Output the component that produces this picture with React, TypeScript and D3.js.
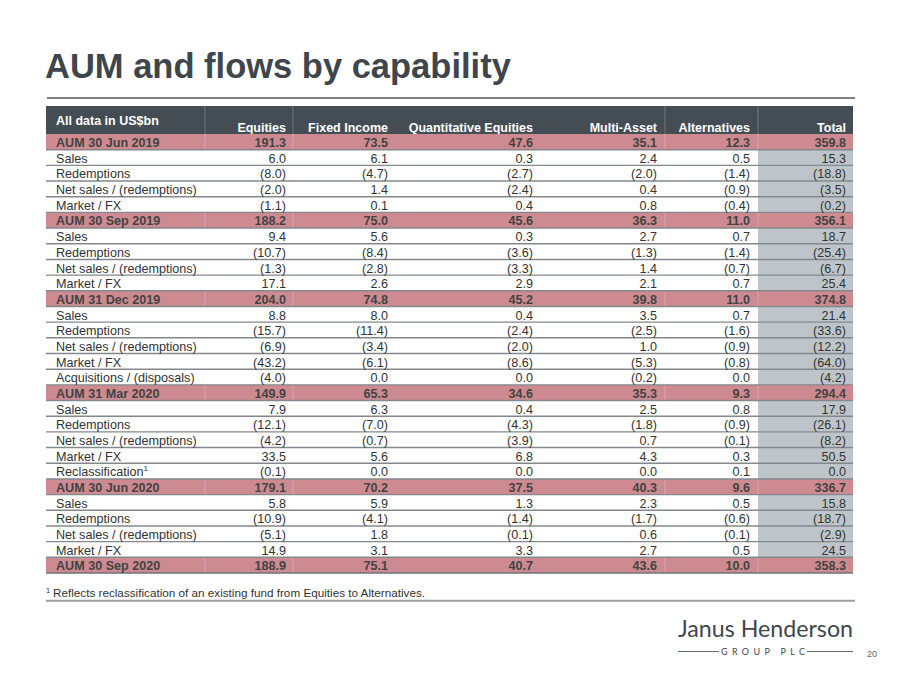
import React from "react";
import * as d3 from "d3";

const rowLabels = [
  "AUM 30 Jun 2019", "Sales", "Redemptions", "Net sales / (redemptions)", "Market / FX",
  "AUM 30 Sep 2019", "Sales", "Redemptions", "Net sales / (redemptions)", "Market / FX",
  "AUM 31 Dec 2019", "Sales", "Redemptions", "Net sales / (redemptions)", "Market / FX", "Acquisitions / (disposals)",
  "AUM 31 Mar 2020", "Sales", "Redemptions", "Net sales / (redemptions)", "Market / FX", "Reclassification",
  "AUM 30 Jun 2020", "Sales", "Redemptions", "Net sales / (redemptions)", "Market / FX",
  "AUM 30 Sep 2020",
];

const columnHeaders = ["Equities", "Fixed Income", "Quantitative Equities", "Multi-Asset", "Alternatives", "Total"];

const equities = [191.3, 6.0, -8.0, -2.0, -1.1, 188.2, 9.4, -10.7, -1.3, 17.1, 204.0, 8.8, -15.7, -6.9, -43.2, -4.0, 149.9, 7.9, -12.1, -4.2, 33.5, -0.1, 179.1, 5.8, -10.9, -5.1, 14.9, 188.9];
const fixedIncome = [73.5, 6.1, -4.7, 1.4, 0.1, 75.0, 5.6, -8.4, -2.8, 2.6, 74.8, 8.0, -11.4, -3.4, -6.1, 0.0, 65.3, 6.3, -7.0, -0.7, 5.6, 0.0, 70.2, 5.9, -4.1, 1.8, 3.1, 75.1];
const quantEquities = [47.6, 0.3, -2.7, -2.4, 0.4, 45.6, 0.3, -3.6, -3.3, 2.9, 45.2, 0.4, -2.4, -2.0, -8.6, 0.0, 34.6, 0.4, -4.3, -3.9, 6.8, 0.0, 37.5, 1.3, -1.4, -0.1, 3.3, 40.7];
const multiAsset = [35.1, 2.4, -2.0, 0.4, 0.8, 36.3, 2.7, -1.3, 1.4, 2.1, 39.8, 3.5, -2.5, 1.0, -5.3, -0.2, 35.3, 2.5, -1.8, 0.7, 4.3, 0.0, 40.3, 2.3, -1.7, 0.6, 2.7, 43.6];
const alternatives = [12.3, 0.5, -1.4, -0.9, -0.4, 11.0, 0.7, -1.4, -0.7, 0.7, 11.0, 0.7, -1.6, -0.9, -0.8, 0.0, 9.3, 0.8, -0.9, -0.1, 0.3, 0.1, 9.6, 0.5, -0.6, -0.1, 0.5, 10.0];
const total = [359.8, 15.3, -18.8, -3.5, -0.2, 356.1, 18.7, -25.4, -6.7, 25.4, 374.8, 21.4, -33.6, -12.2, -64.0, -4.2, 294.4, 17.9, -26.1, -8.2, 50.5, 0.0, 336.7, 15.8, -18.7, -2.9, 24.5, 358.3];

const seriesList = [equities, fixedIncome, quantEquities, multiAsset, alternatives, total];

const FONT = "'Liberation Sans', Arial, Helvetica, sans-serif";
const LEFT = 46;
const RIGHT = 853;
const HEADER_TOP = 106;
const HEADER_BOTTOM = 134;
const TABLE_BOTTOM = 573;
const colRight = [286, 388, 533, 657, 750, 846];
const vLines = [205, 293, 665, 758];
const TOTAL_LEFT = 758;

const fmt = (v: number) => {
  const s = Math.abs(v).toFixed(1);
  return v < 0 ? `(${s})` : s;
};

export default function App() {
  const y = d3
    .scaleBand<number>()
    .domain(d3.range(rowLabels.length))
    .range([HEADER_BOTTOM, TABLE_BOTTOM]);
  const x = d3.scaleOrdinal<number, number>().domain(d3.range(columnHeaders.length)).range(colRight);
  const isAUM = (i: number) => rowLabels[i].startsWith("AUM");
  const bh = y.bandwidth();

  return (
    <svg width={900} height={675} style={{ position: "absolute", left: 0, top: 0, background: "#fff" }} fontFamily={FONT}>
      <text x={45} y={78} fontSize={34.5} fontWeight="bold" fill="#3e464c">AUM and flows by capability</text>
      <line x1={47} x2={855} y1={98} y2={98} stroke="#7c8186" strokeWidth={2} />

      {/* header */}
      <rect x={LEFT} y={HEADER_TOP} width={RIGHT - LEFT} height={HEADER_BOTTOM - HEADER_TOP} fill="#454d54" />
      {vLines.map((vx) => (
        <line key={vx} x1={vx} x2={vx} y1={HEADER_TOP} y2={HEADER_BOTTOM} stroke="#6e767c" strokeWidth={1} />
      ))}
      <text x={56} y={125} fontSize={12.5} fontWeight="bold" fill="#fff">All data in US$bn</text>
      {columnHeaders.map((h, c) => (
        <text key={h} x={x(c)} y={132} fontSize={12.5} fontWeight="bold" fill="#fff" textAnchor="end">{h}</text>
      ))}

      {/* total column shading */}
      <rect x={TOTAL_LEFT} y={HEADER_BOTTOM} width={RIGHT - TOTAL_LEFT} height={TABLE_BOTTOM - HEADER_BOTTOM} fill="#bec5ca" />

      {/* AUM rows */}
      {rowLabels.map((_, i) =>
        isAUM(i) ? (
          <g key={"p" + i}>
            <rect x={LEFT} y={y(i)} width={RIGHT - LEFT} height={bh} fill="#cd8b91" />
            {vLines.map((vx) => (
              <line key={vx} x1={vx} x2={vx} y1={y(i)!} y2={y(i)! + bh} stroke="#dba7ab" strokeWidth={1} />
            ))}
          </g>
        ) : null
      )}

      {/* separators */}
      {rowLabels.map((_, i) =>
        i > 0 ? (
          <line key={"s" + i} x1={LEFT} x2={RIGHT} y1={y(i)!} y2={y(i)!} stroke="#84888c" strokeWidth={1.4} />
        ) : null
      )}
      <line x1={LEFT} x2={RIGHT} y1={TABLE_BOTTOM} y2={TABLE_BOTTOM} stroke="#6f7377" strokeWidth={1.4} />

      {/* row labels and values */}
      {rowLabels.map((lab, i) => {
        const base = y(i)! + bh - 2.6;
        const bold = isAUM(i);
        return (
          <g key={"r" + i} fontSize={12.6} fontWeight={bold ? "bold" : "normal"} fill={bold ? "#434343" : "#333"}>
            <text x={56} y={base}>
              {lab}
              {lab === "Reclassification" ? (
                <tspan fontSize={8} dy={-5}>1</tspan>
              ) : null}
            </text>
            {seriesList.map((s, c) => (
              <text key={c} x={x(c)} y={base} textAnchor="end">{fmt(s[i])}</text>
            ))}
          </g>
        );
      })}

      {/* footnote */}
      <text x={46} y={593} fontSize={7.5} fill="#333">1</text>
      <text x={53} y={596.5} fontSize={10.5} fill="#333" textLength={372} lengthAdjust="spacingAndGlyphs">Reflects reclassification of an existing fund from Equities to Alternatives.</text>
      <line x1={LEFT} x2={855} y1={600.7} y2={600.7} stroke="#9a9ea2" strokeWidth={2} />

      {/* logo */}
      <text x={678} y={637} fontSize={23} fontFamily="Lato, 'Open Sans', sans-serif" fontWeight={400} fill="#3f474d" textLength={175} lengthAdjust="spacingAndGlyphs">Janus Henderson</text>
      <line x1={678} x2={719} y1={651.5} y2={651.5} stroke="#3f474d" strokeWidth={0.8} />
      <line x1={807} x2={853} y1={651.5} y2={651.5} stroke="#3f474d" strokeWidth={0.8} />
      <text x={721} y={654.5} fontSize={9} fill="#3f474d" fontFamily="Lato, 'Open Sans', sans-serif" textLength={84} lengthAdjust="spacing">GROUP PLC</text>
      <text x={872} y={657} fontSize={9} fill="#666" textAnchor="middle">20</text>
    </svg>
  );
}
